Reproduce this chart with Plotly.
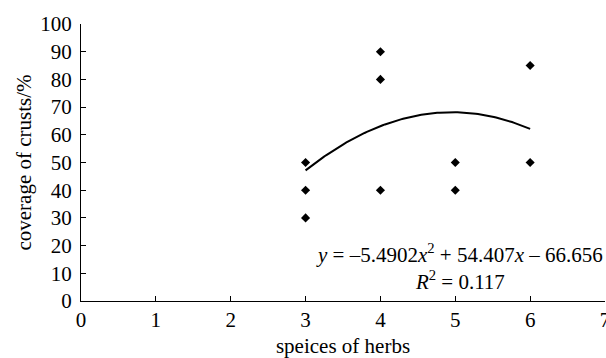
import numpy as np
import plotly.graph_objects as go

# data
herb_species = [3, 3, 3, 4, 4, 4, 5, 5, 6, 6]
crust_coverage = [50, 40, 30, 90, 80, 40, 50, 40, 85, 50]
fit_coeffs = [-5.4902, 54.407, -66.656]  # a, b, c of y = a x^2 + b x + c
fit_range = [3, 6]
x_ticks = [0, 1, 2, 3, 4, 5, 6, 7]
y_ticks = [0, 10, 20, 30, 40, 50, 60, 70, 80, 90, 100]

xf = np.linspace(fit_range[0], fit_range[1], 100)
yf = np.polyval(fit_coeffs, xf)

FONT = "Liberation Serif, Times New Roman, serif"

fig = go.Figure()
fig.add_trace(go.Scatter(x=xf, y=yf, mode="lines",
                         line=dict(color="black", width=2), hoverinfo="skip"))
fig.add_trace(go.Scatter(x=herb_species, y=crust_coverage, mode="markers",
                         marker=dict(symbol="diamond", size=7, color="black")))

fig.add_annotation(
    x=7, y=12.3, xref="x", yref="y", xanchor="right", yanchor="middle",
    align="center", showarrow=False,
    text="<i>y</i> = \u20135.4902<i>x</i><sup>2</sup> + 54.407<i>x</i> \u2013 66.656<br><i>R</i><sup>2</sup> = 0.117",
    font=dict(family=FONT, size=21, color="black"),
)

fig.update_layout(
    width=606, height=358,
    margin=dict(l=81, r=1, t=24, b=57),
    paper_bgcolor="white", plot_bgcolor="white",
    showlegend=False,
    font=dict(family=FONT, size=21, color="black"),
    xaxis=dict(range=[0, 7], tickvals=x_ticks, showgrid=False, zeroline=False,
               showline=True, linecolor="black", linewidth=1,
               ticks="inside", ticklen=5, tickcolor="black",
               ticklabeloverflow="allow", automargin=False,
               title=dict(text="speices of herbs", font=dict(size=21), standoff=9),
               tickfont=dict(size=21)),
    yaxis=dict(range=[0, 100], tickvals=y_ticks, showgrid=False, zeroline=False,
               showline=True, linecolor="black", linewidth=1,
               ticks="inside", ticklen=5, tickcolor="black",
               ticklabelstandoff=4, automargin=False,
               title=dict(text="coverage of crusts/%", font=dict(size=21), standoff=2),
               tickfont=dict(size=21)),
)

fig.write_html("out.html")
